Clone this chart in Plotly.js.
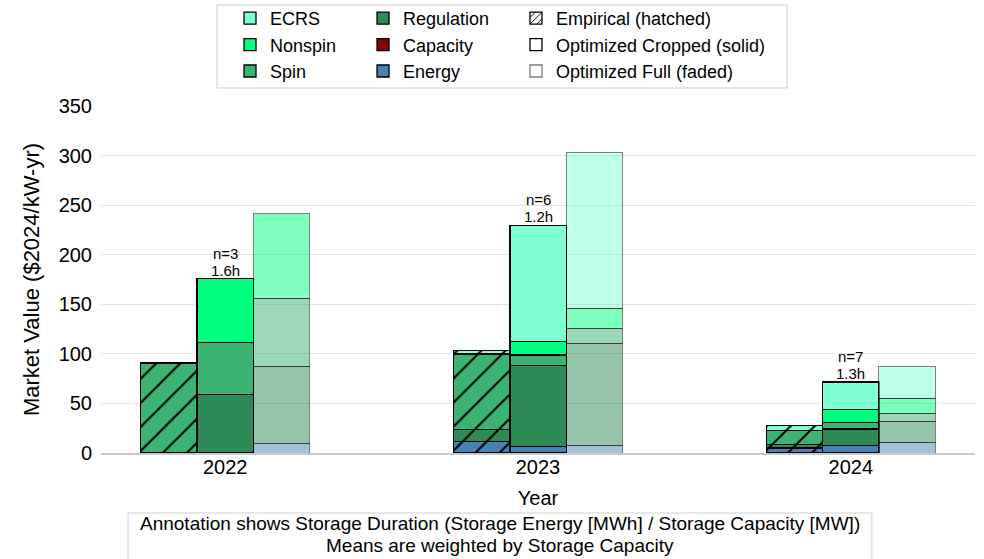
<!DOCTYPE html>
<html><head><meta charset="utf-8">
<script src="https://cdn.plot.ly/plotly-3.0.1.min.js"></script>
<style>html,body{margin:0;padding:0;background:#fff}</style>
</head><body><div id="chart" style="width:984px;height:559px"></div>
<script>
// ---- data ($2024/kW-yr) ----
const years = [2022, 2023, 2024];
const categories = ['Energy', 'Capacity', 'Regulation', 'Spin', 'Nonspin', 'ECRS'];

const empiricalEnergy     = [0, 11.7, 5.0];
const empiricalCapacity   = [0, 0, 0];
const empiricalRegulation = [0, 11.7, 3.3];
const empiricalSpin       = [90.8, 76.6, 14.1];
const empiricalNonspin    = [0, 0, 0];
const empiricalECRS       = [0, 3.2, 5.1];

const croppedEnergy     = [0, 6.6, 7.3];
const croppedCapacity   = [0, 0, 0];
const croppedRegulation = [59.3, 81.5, 16.8];
const croppedSpin       = [51.9, 10.8, 6.7];
const croppedNonspin    = [64.8, 13.7, 13.4];
const croppedECRS       = [0, 117.0, 27.5];

const fullEnergy     = [9.1, 7.3, 11.1];
const fullCapacity   = [0, 0, 0];
const fullRegulation = [77.7, 102.9, 21.1];
const fullSpin       = [69.1, 15.5, 8.0];
const fullNonspin    = [85.7, 19.7, 15.1];
const fullECRS       = [0, 157.3, 32.2];

const sampleCounts = [3, 6, 7];
const durationHours = [1.6, 1.2, 1.3];

const variantLabels = ['Empirical (hatched)', 'Optimized Cropped (solid)', 'Optimized Full (faded)'];
const noteLines = ['Annotation shows Storage Duration (Storage Energy [MWh] / Storage Capacity [MW])',
                   'Means are weighted by Storage Capacity'];
const yTickVals = [0, 50, 100, 150, 200, 250, 300, 350];

// ---- styling ----
const colors = {Energy:'#4682B4', Capacity:'#8B0000', Regulation:'#2E8B57', Spin:'#3CB371', Nonspin:'#00FF7F', ECRS:'#7FFFD4'};
const FONT = 'Liberation Sans, Arial, Helvetica, sans-serif';
const BAR_W = 0.18;
const legendOf = {ECRS:'legend', Nonspin:'legend', Spin:'legend', Regulation:'legend2', Capacity:'legend2', Energy:'legend2'};
const rankOf = {ECRS:1, Nonspin:2, Spin:3, Regulation:1, Capacity:2, Energy:3};

const variants = [
  {name:'emp', offset:-BAR_W, series:[empiricalEnergy, empiricalCapacity, empiricalRegulation, empiricalSpin, empiricalNonspin, empiricalECRS]},
  {name:'crop', offset:0, series:[croppedEnergy, croppedCapacity, croppedRegulation, croppedSpin, croppedNonspin, croppedECRS]},
  {name:'full', offset:BAR_W, series:[fullEnergy, fullCapacity, fullRegulation, fullSpin, fullNonspin, fullECRS]}
];

const traces = [];
variants.forEach(v => {
  categories.forEach((cat, ci) => {
    const vals = v.series[ci].map(d => d === 0 ? null : d);
    const t = {
      type:'bar', x: years.map(y => y + v.offset), y: vals, width: BAR_W,
      name: cat, hoverinfo:'skip',
      marker:{color: colors[cat], line:{color:'#000', width: 1.3}},
      showlegend:false
    };
    if (v.name === 'emp') {
      t.marker.pattern = {shape:'/', fillmode:'replace', bgcolor: colors[cat], fgcolor:'#000', size:17, solidity:0.12};
    } else if (v.name === 'crop') {
      t.showlegend = true; t.legend = legendOf[cat]; t.legendrank = rankOf[cat];
    } else {
      t.opacity = 0.5; t.marker.line.width = 1;
    }
    traces.push(t);
  });
});

// legend-only entries for the three variants
traces.push({type:'bar', x:[null], y:[null], name:variantLabels[0], legend:'legend3', legendrank:1,
  marker:{color:'#fff', line:{color:'#000', width:1.3}, pattern:{shape:'/', bgcolor:'#fff', fgcolor:'#000', size:6, solidity:0.2}}});
traces.push({type:'bar', x:[null], y:[null], name:variantLabels[1], legend:'legend3', legendrank:2,
  marker:{color:'#fff', line:{color:'#000', width:1.3}}});
traces.push({type:'bar', x:[null], y:[null], name:variantLabels[2], legend:'legend3', legendrank:3, opacity:0.5,
  marker:{color:'#fff', line:{color:'#000', width:1.3}}});

// annotations above cropped bars
const annotations = [];
years.forEach((yr, i) => {
  const top = variants[1].series.reduce((s, arr) => s + arr[i], 0);
  annotations.push({x: yr, y: top, xref:'x', yref:'y', text: durationHours[i].toFixed(1) + 'h', showarrow:false,
    yanchor:'bottom', yshift:-2, font:{family:FONT, size:15, color:'#000'}});
  annotations.push({x: yr, y: top, xref:'x', yref:'y', text: 'n=' + sampleCounts[i], showarrow:false,
    yanchor:'bottom', yshift:15, font:{family:FONT, size:15, color:'#000'}});
});
// footnote box (two lines, tighter spacing than Plotly's default line height)
const noteY = [-0.2046, -0.268];
noteLines.forEach((txt, i) => {
  annotations.push({xref:'paper', yref:'paper', x:0.4565, y:noteY[i], xanchor:'center', yanchor:'middle',
    text: txt, showarrow:false, align:'center', font:{family:FONT, size:19, color:'#000'}});
});

const legendBase = {orientation:'v', xanchor:'left', yanchor:'top', yref:'container', y:1, bgcolor:'rgba(0,0,0,0)',
  borderwidth:0, font:{family:FONT, size:18, color:'#000'}, traceorder:'normal', tracegroupgap:0};

const layout = {
  width:984, height:559,
  margin:{l:101, r:9, t:106, b:106},
  paper_bgcolor:'#fff', plot_bgcolor:'#fff',
  barmode:'stack',
  font:{family:FONT, color:'#000'},
  xaxis:{range:[2021.603, 2024.397], tickvals: years, ticktext: years.map(String), ticks:'',
    showgrid:false, zeroline:false, showline:true, linecolor:'#c8c8c8', linewidth:1.5,
    ticklabelstandoff:-5,
    tickfont:{size:20, family:FONT, color:'#000'},
    title:{text:'Year', font:{size:20, family:FONT, color:'#000'}, standoff:14}, automargin:false},
  yaxis:{range:[0, 350], tickvals: yTickVals, ticks:'', showgrid:true, gridcolor:'#e2e2e2', gridwidth:1,
    zeroline:false, showline:false, tickfont:{size:20, family:FONT, color:'#000'},
    ticklabelstandoff:8,
    title:{text:'Market Value ($2024/kW-yr)', font:{size:22, family:FONT, color:'#000'}, standoff:12}, automargin:false},
  legend: Object.assign({}, legendBase, {x:0.1476}),
  legend2: Object.assign({}, legendBase, {x:0.2998}),
  legend3: Object.assign({}, legendBase, {x:0.4748}),
  shapes:[
    {type:'rect', xref:'paper', yref:'paper', x0:0.1327, x1:0.785, y0:1.052, y1:1.291,
      line:{color:'#cfcfcf', width:1}, fillcolor:'rgba(0,0,0,0)'},
    {type:'rect', xref:'paper', yref:'paper', x0:0.0309, x1:0.882, y0:-0.34, y1:-0.1729,
      line:{color:'#d0d0d0', width:1}, fillcolor:'#fff'}
  ],
  annotations: annotations,
  showlegend:true
};

Plotly.newPlot('chart', traces, layout, {displayModeBar:false, staticPlot:true});
</script>
</body></html>
